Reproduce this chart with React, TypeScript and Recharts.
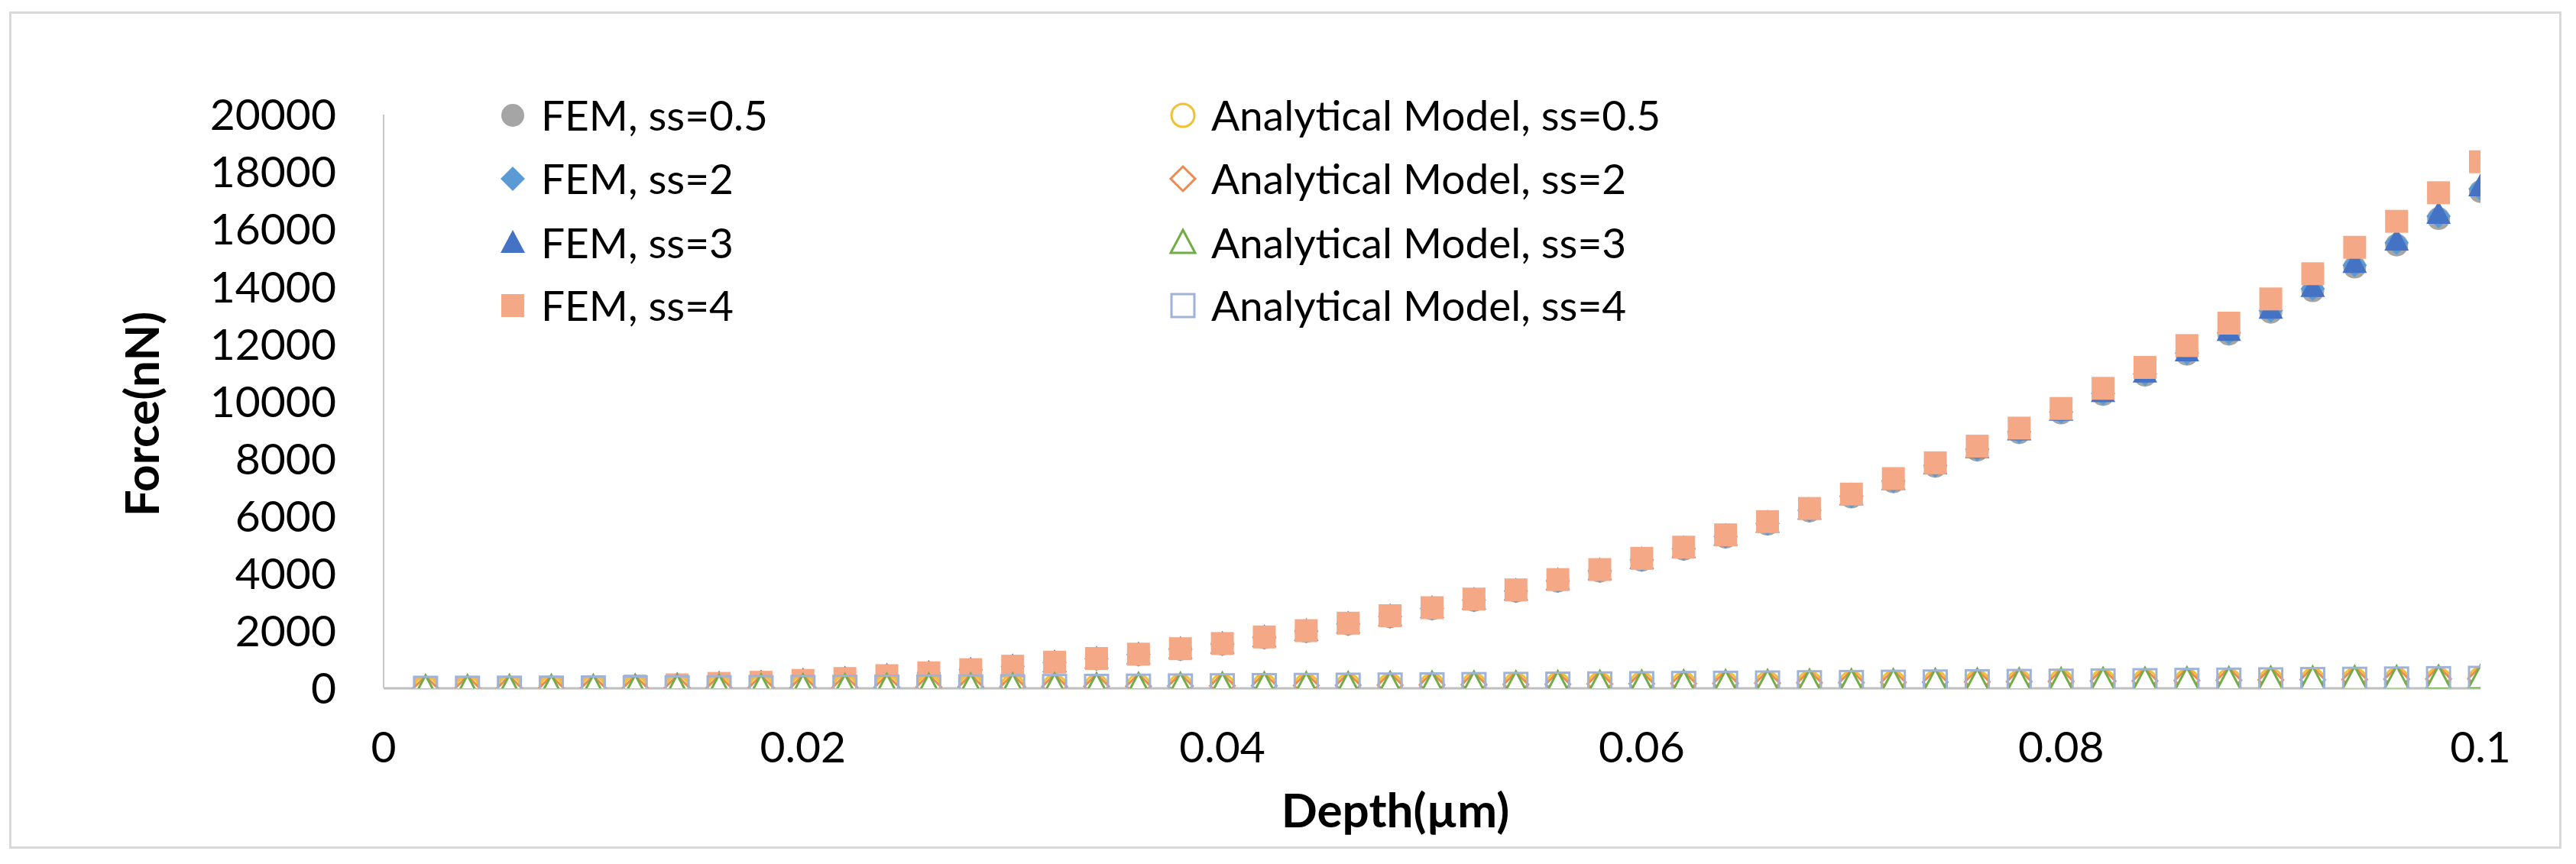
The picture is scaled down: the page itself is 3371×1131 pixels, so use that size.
import { ScatterChart, Scatter, XAxis, YAxis, Legend, Label } from 'recharts'

// depth in µm
const depth = [
  0.002, 0.004, 0.006, 0.008, 0.01, 0.012, 0.014, 0.016, 0.018, 0.02,
  0.022, 0.024, 0.026, 0.028, 0.03, 0.032, 0.034, 0.036, 0.038, 0.04,
  0.042, 0.044, 0.046, 0.048, 0.05, 0.052, 0.054, 0.056, 0.058, 0.06,
  0.062, 0.064, 0.066, 0.068, 0.07, 0.072, 0.074, 0.076, 0.078, 0.08,
  0.082, 0.084, 0.086, 0.088, 0.09, 0.092, 0.094, 0.096, 0.098, 0.1
]

// force in nN
const femSs05 = [
  0, 10, 19, 29, 54, 79, 119, 167, 207, 272,
  335, 434, 533, 641, 760, 898, 1026, 1174, 1361, 1539,
  1766, 1982, 2238, 2495, 2771, 3066, 3382, 3736, 4081, 4465,
  4849, 5272, 5725, 6178, 6669, 7200, 7739, 8304, 8909, 9598,
  10240, 10915, 11645, 12345, 13110, 13860, 14685, 15455, 16375, 17320
]
const femSs2 = [
  0, 10, 20, 30, 54, 80, 119, 168, 208, 273,
  336, 436, 535, 643, 763, 901, 1030, 1178, 1366, 1545,
  1773, 1990, 2247, 2505, 2782, 3079, 3396, 3751, 4098, 4483,
  4869, 5293, 5748, 6203, 6696, 7229, 7770, 8337, 8945, 9637,
  10282, 10960, 11694, 12400, 13168, 13925, 14755, 15530, 16456, 17408
]
const femSs3 = [
  0, 10, 20, 30, 55, 80, 120, 169, 209, 274,
  338, 438, 537, 646, 766, 905, 1034, 1183, 1372, 1551,
  1780, 1998, 2256, 2515, 2793, 3091, 3409, 3766, 4114, 4501,
  4888, 5314, 5771, 6227, 6722, 7257, 7800, 8370, 8990, 9675,
  10324, 11006, 11744, 12454, 13227, 13989, 14825, 15605, 16537, 17496
]
const femSs4 = [
  0, 10, 20, 30, 55, 80, 120, 170, 210, 275,
  340, 440, 540, 650, 770, 910, 1040, 1190, 1380, 1560,
  1790, 2010, 2270, 2530, 2810, 3110, 3430, 3790, 4140, 4530,
  4920, 5350, 5810, 6270, 6770, 7310, 7860, 8440, 9070, 9755,
  10457, 11185, 11948, 12729, 13573, 14452, 15373, 16280, 17275, 18356
]
const anaSs05 = [
  1, 3, 5, 8, 10, 13, 17, 21, 25, 29,
  33, 38, 43, 48, 53, 59, 64, 70, 76, 82,
  88, 94, 101, 107, 114, 121, 128, 135, 142, 150,
  158, 165, 173, 181, 189, 197, 205, 214, 222, 231,
  240, 248, 257, 266, 276, 285, 294, 303, 313, 323
]
const anaSs2 = [
  1, 3, 5, 8, 11, 14, 18, 22, 26, 30,
  35, 40, 45, 50, 56, 62, 67, 73, 80, 86,
  93, 99, 106, 113, 120, 127, 135, 142, 150, 158,
  166, 174, 182, 190, 199, 207, 216, 225, 234, 243,
  252, 261, 271, 280, 290, 300, 309, 319, 329, 340
]
const anaSs3 = [
  1, 3, 5, 8, 11, 14, 18, 22, 26, 31,
  35, 40, 45, 51, 56, 62, 68, 74, 80, 87,
  93, 100, 107, 114, 121, 128, 136, 143, 151, 159,
  167, 175, 183, 192, 200, 209, 218, 227, 236, 245,
  254, 263, 273, 282, 292, 302, 312, 322, 332, 343
]
const anaSs4 = [
  1, 3, 5, 8, 11, 14, 18, 22, 27, 31,
  36, 41, 46, 51, 57, 63, 69, 75, 81, 88,
  94, 101, 108, 115, 122, 130, 137, 145, 153, 161,
  169, 177, 185, 194, 202, 211, 220, 229, 238, 247,
  257, 266, 276, 285, 295, 305, 315, 325, 336, 346
]

const xTicks = [0, 0.02, 0.04, 0.06, 0.08, 0.1]
const yTicks = [0, 2000, 4000, 6000, 8000, 10000, 12000, 14000, 16000, 18000, 20000]

type MarkKind = 'circle' | 'diamond' | 'triangle' | 'square'

const series = [
  { name: 'FEM, ss=0.5', values: femSs05, kind: 'circle', color: '#a5a5a5', hollow: false },
  { name: 'FEM, ss=2', values: femSs2, kind: 'diamond', color: '#5b9bd5', hollow: false },
  { name: 'FEM, ss=3', values: femSs3, kind: 'triangle', color: '#4472c4', hollow: false },
  { name: 'FEM, ss=4', values: femSs4, kind: 'square', color: '#f4a885', hollow: false },
  { name: 'Analytical Model, ss=0.5', values: anaSs05, kind: 'circle', color: '#f2c132', hollow: true },
  { name: 'Analytical Model, ss=2', values: anaSs2, kind: 'diamond', color: '#ed8a52', hollow: true },
  { name: 'Analytical Model, ss=3', values: anaSs3, kind: 'triangle', color: '#70ad47', hollow: true },
  { name: 'Analytical Model, ss=4', values: anaSs4, kind: 'square', color: '#9fb3d8', hollow: true }
] as { name: string; values: number[]; kind: MarkKind; color: string; hollow: boolean }[]

const FONT = 'Lato, "Open Sans", sans-serif'

function Marker({ cx, cy, kind, color, hollow }: { cx: number; cy: number; kind: MarkKind; color: string; hollow: boolean }) {
  if (cx == null || cy == null) return null
  const fill = hollow ? (kind === 'square' ? 'none' : '#fff') : color
  const stroke = hollow ? color : 'none'
  const sw = hollow ? 3 : 0
  if (kind === 'circle') return <circle cx={cx} cy={cy} r={15} fill={fill} stroke={stroke} strokeWidth={sw} />
  if (kind === 'square') return <rect x={cx - 15} y={cy - 15} width={30} height={30} fill={fill} stroke={stroke} strokeWidth={sw} />
  if (kind === 'diamond') {
    const pts = `${cx},${cy - 16} ${cx + 16},${cy} ${cx},${cy + 16} ${cx - 16},${cy}`
    return <polygon points={pts} fill={fill} stroke={stroke} strokeWidth={sw} />
  }
  const pts = `${cx},${cy - 17} ${cx + 16},${cy + 13} ${cx - 16},${cy + 13}`
  return <polygon points={pts} fill={fill} stroke={stroke} strokeWidth={sw} strokeLinejoin="miter" />
}

function renderLegend() {
  const colX = [671, 1548]
  const rowY = [151, 234, 318, 400]
  return (
    <svg width={2400} height={460} style={{ overflow: 'visible' }}>
      {series.map((s, i) => {
        const col = Math.floor(i / 4)
        const row = i % 4
        const cx = colX[col]
        const cy = rowY[row]
        return (
          <g key={s.name}>
            <Marker cx={cx} cy={cy} kind={s.kind} color={s.color} hollow={s.hollow} />
            <text x={cx + 37} y={cy + 20} fontSize={55} fontFamily={FONT} fill="#000">
              {s.name}
            </text>
          </g>
        )
      })}
    </svg>
  )
}

export default function App() {
  return (
    <div>
      <div
        style={{
          position: 'absolute',
          left: 12,
          top: 15,
          width: 3340,
          height: 1096,
          border: '3px solid #d9d9d9',
          boxSizing: 'border-box',
          background: '#fff'
        }}
      />
      <div style={{ position: 'absolute', left: 0, top: 0 }}>
        <ScatterChart width={3371} height={1131} margin={{ top: 150, right: 125, bottom: 0, left: 0 }}>
          <XAxis
            type="number"
            dataKey="x"
            domain={[0, 0.1]}
            ticks={xTicks}
            tickFormatter={(v: number) => String(v)}
            height={230}
            tickLine={false}
            tickSize={0}
            tickMargin={57}
            axisLine={{ stroke: '#bfbfbf', strokeWidth: 3 }}
            tick={{ fontSize: 57, fontFamily: FONT, fill: '#000' }}
            allowDataOverflow
          >
            <Label value="Depth(µm)" position="insideBottom" offset={48} dx={-48} fontSize={62} fontWeight="bold" fontFamily={FONT} fill="#000" />
          </XAxis>
          <YAxis
            type="number"
            dataKey="y"
            domain={[0, 20000]}
            ticks={yTicks}
            width={502}
            tickLine={false}
            tickSize={0}
            tickMargin={62}
            axisLine={{ stroke: '#c8c8c8', strokeWidth: 2 }}
            tick={{ fontSize: 57, fontFamily: FONT, fill: '#000' }}
            allowDataOverflow
          >
            <Label
              content={() => (
                <text x={208} y={542} transform="rotate(-90 208 542)" textAnchor="middle" fontSize={62} fontWeight="bold" fontFamily={FONT} fill="#000">
                  Force(nN)
                </text>
              )}
            />
          </YAxis>
          <Legend
            layout="vertical"
            align="center"
            verticalAlign="middle"
            content={renderLegend}
            wrapperStyle={{ left: 0, top: 0, width: 2400, height: 460 }}
          />
          {series.map(s => (
            <Scatter
              key={s.name}
              name={s.name}
              data={depth.map((d, i) => ({ x: d, y: s.values[i] }))}
              isAnimationActive={false}
              shape={(p: any) => <Marker cx={p.cx} cy={p.cy} kind={s.kind} color={s.color} hollow={s.hollow} />}
            />
          ))}
        </ScatterChart>
      </div>
    </div>
  )
}
